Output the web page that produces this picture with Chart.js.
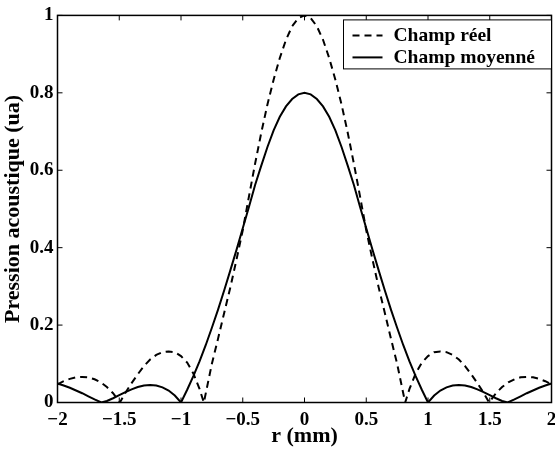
<!DOCTYPE html>
<html>
<head>
<meta charset="utf-8">
<script src="https://cdn.jsdelivr.net/npm/chart.js@4"></script>
<style>
  html, body { margin: 0; background: #fff; }
</style>
</head>
<body>
<canvas id="champ" width="555" height="450"></canvas>
<script>
/* Valeurs : r en mm, pression en ua */
const rReel = [-2, -1.95, -1.9, -1.85, -1.8, -1.75, -1.7, -1.65, -1.6, -1.55, -1.495, -1.45, -1.4, -1.35, -1.3, -1.25, -1.2, -1.15, -1.1, -1.05, -1, -0.95, -0.9, -0.85, -0.815, -0.75, -0.7, -0.65, -0.6, -0.55, -0.5, -0.45, -0.4, -0.35, -0.3, -0.25, -0.2, -0.15, -0.1, -0.05,
  0, 0.05, 0.1, 0.15, 0.2, 0.25, 0.3, 0.35, 0.4, 0.45, 0.5, 0.55, 0.6, 0.65, 0.7, 0.75, 0.815, 0.85, 0.9, 0.95, 1, 1.05, 1.1, 1.15, 1.2, 1.25, 1.3, 1.35, 1.4, 1.45, 1.495, 1.55, 1.6, 1.65, 1.7, 1.75, 1.8, 1.85, 1.9, 1.95, 2];
const pReel = [0.047, 0.055, 0.061, 0.065, 0.066, 0.065, 0.06, 0.052, 0.04, 0.024, 0, 0.025, 0.05, 0.073, 0.094, 0.111, 0.123, 0.13, 0.132, 0.13, 0.12, 0.103, 0.075, 0.035, 0, 0.1, 0.165, 0.232, 0.298, 0.37, 0.445, 0.532, 0.617, 0.697, 0.77, 0.834, 0.89, 0.937, 0.972, 0.993,
  1, 0.993, 0.972, 0.937, 0.89, 0.834, 0.77, 0.697, 0.617, 0.532, 0.445, 0.37, 0.298, 0.232, 0.165, 0.1, 0, 0.035, 0.075, 0.103, 0.12, 0.13, 0.132, 0.13, 0.123, 0.111, 0.094, 0.073, 0.05, 0.025, 0, 0.024, 0.04, 0.052, 0.06, 0.065, 0.066, 0.065, 0.061, 0.055, 0.047];

const rMoy = [-2, -1.95, -1.9, -1.85, -1.8, -1.75, -1.7, -1.645, -1.6, -1.55, -1.5, -1.45, -1.4, -1.35, -1.3, -1.25, -1.2, -1.15, -1.1, -1.05, -1, -0.95, -0.9, -0.85, -0.8, -0.75, -0.7, -0.65, -0.6, -0.55, -0.5, -0.45, -0.4, -0.35, -0.3, -0.25, -0.2, -0.15, -0.1, -0.05,
  0, 0.05, 0.1, 0.15, 0.2, 0.25, 0.3, 0.35, 0.4, 0.45, 0.5, 0.55, 0.6, 0.65, 0.7, 0.75, 0.8, 0.85, 0.9, 0.95, 1, 1.05, 1.1, 1.15, 1.2, 1.25, 1.3, 1.35, 1.4, 1.45, 1.5, 1.55, 1.6, 1.645, 1.7, 1.75, 1.8, 1.85, 1.9, 1.95, 2];
const pMoy = [0.049, 0.044, 0.038, 0.031, 0.024, 0.016, 0.008, 0, 0.004, 0.011, 0.019, 0.027, 0.034, 0.04, 0.044, 0.045, 0.044, 0.039, 0.031, 0.018, 0, 0.033, 0.068, 0.106, 0.148, 0.193, 0.24, 0.29, 0.342, 0.395, 0.45, 0.505, 0.562, 0.612, 0.66, 0.703, 0.738, 0.765, 0.784, 0.796,
  0.8, 0.796, 0.784, 0.765, 0.738, 0.703, 0.66, 0.612, 0.562, 0.505, 0.45, 0.395, 0.342, 0.29, 0.24, 0.193, 0.148, 0.106, 0.068, 0.033, 0, 0.018, 0.031, 0.039, 0.044, 0.045, 0.044, 0.04, 0.034, 0.027, 0.019, 0.011, 0.004, 0, 0.008, 0.016, 0.024, 0.031, 0.038, 0.044, 0.049];

const legendLabels = ['Champ réel', 'Champ moyenné'];

const serif = "'Liberation Serif', 'Times New Roman', serif";

// tirets vers l'intérieur sur les 4 côtés + cadre + légende, façon Matlab
const matlabAxes = {
  id: 'matlabAxes',
  afterDatasetsDraw(chart) {
    const { ctx, chartArea: a, scales } = chart;
    ctx.save();
    ctx.strokeStyle = '#000';
    ctx.lineWidth = 1.5;
    ctx.strokeRect(a.left, a.top, a.right - a.left, a.bottom - a.top);
    const len = 5;
    ctx.beginPath();
    scales.x.ticks.forEach((t) => {
      const px = scales.x.getPixelForValue(t.value);
      ctx.moveTo(px, a.bottom); ctx.lineTo(px, a.bottom - len);
      ctx.moveTo(px, a.top); ctx.lineTo(px, a.top + len);
    });
    scales.y.ticks.forEach((t) => {
      const py = scales.y.getPixelForValue(t.value);
      ctx.moveTo(a.left, py); ctx.lineTo(a.left + len, py);
      ctx.moveTo(a.right, py); ctx.lineTo(a.right - len, py);
    });
    ctx.lineWidth = 1;
    ctx.stroke();

    // légende
    const w = 208, h = 49;
    const lx = a.right - w, ly = a.top + 4.5;
    ctx.fillStyle = '#fff';
    ctx.fillRect(lx, ly, w, h);
    ctx.lineWidth = 1;
    ctx.strokeRect(lx, ly, w, h);
    ctx.font = 'bold 19.5px ' + serif;
    ctx.textBaseline = 'middle';
    ctx.fillStyle = '#000';
    chart.data.datasets.forEach((ds, i) => {
      const y = ly + 15.5 + i * 22;
      ctx.beginPath();
      ctx.lineWidth = ds.borderWidth;
      ctx.setLineDash(ds.borderDash || []);
      ctx.moveTo(lx + 9, y); ctx.lineTo(lx + 39, y);
      ctx.stroke();
      ctx.setLineDash([]);
      ctx.fillText(ds.label, lx + 50, y + 1);
    });
    ctx.restore();
  }
};

const fmt = (v) => {
  const s = String(Number(v.toFixed(2)));
  return s.replace('-', '\u2212');
};

new Chart(document.getElementById('champ'), {
  type: 'line',
  data: {
    datasets: [
      {
        label: legendLabels[0],
        data: rReel.map((r, i) => ({ x: r, y: pReel[i] })),
        borderColor: '#000',
        borderWidth: 2,
        borderDash: [7, 5],
        pointRadius: 0,
        tension: 0
      },
      {
        label: legendLabels[1],
        data: rMoy.map((r, i) => ({ x: r, y: pMoy[i] })),
        borderColor: '#000',
        borderWidth: 2,
        pointRadius: 0,
        tension: 0
      }
    ]
  },
  options: {
    responsive: false,
    animation: false,
    layout: { padding: { top: 12.7, right: 3.5, left: 0, bottom: 0 } },
    plugins: { legend: { display: false }, tooltip: { enabled: false } },
    scales: {
      x: {
        type: 'linear',
        min: -2,
        max: 2,
        grid: { display: false, drawTicks: false },
        border: { display: false },
        ticks: {
          stepSize: 0.5,
          padding: 6,
          color: '#000',
          font: { family: serif, size: 19, weight: 'bold' },
          callback: fmt
        },
        title: {
          display: true,
          text: 'r (mm)',
          color: '#000',
          padding: 0,
          font: { family: serif, size: 22, weight: 'bold' }
        },
        afterFit(scale) {
          scale.height = 47.5;
          scale.paddingLeft = 0;
          scale.paddingRight = 0;
        }
      },
      y: {
        min: 0,
        max: 1,
        grid: { display: false, drawTicks: false },
        border: { display: false },
        ticks: {
          stepSize: 0.2,
          padding: 4,
          color: '#000',
          font: { family: serif, size: 19, weight: 'bold' },
          callback: fmt
        },
        title: {
          display: true,
          text: 'Pression acoustique (ua)',
          color: '#000',
          padding: 0,
          font: { family: serif, size: 22, weight: 'bold' }
        },
        afterFit(scale) {
          scale.width = 57.5;
        }
      }
    }
  },
  plugins: [matlabAxes]
});
</script>
</body>
</html>
